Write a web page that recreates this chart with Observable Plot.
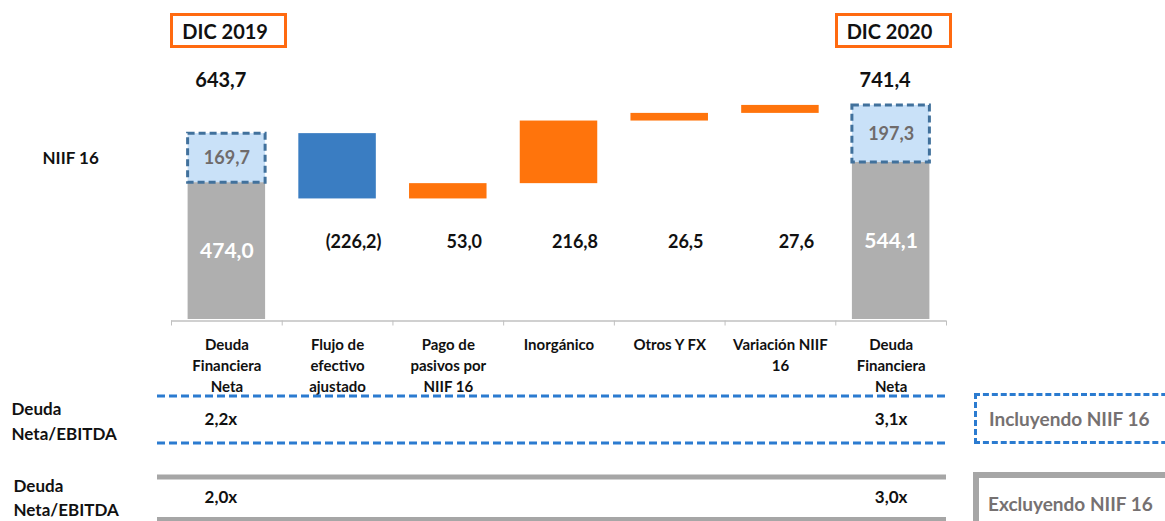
<!DOCTYPE html>
<html>
<head>
<meta charset="utf-8">
<script src="https://cdn.jsdelivr.net/npm/d3@7"></script>
<script src="https://cdn.jsdelivr.net/npm/@observablehq/plot@0.6"></script>
<style>
  html, body { margin: 0; padding: 0; background: #fff; }
  #wrap { position: relative; width: 1165px; height: 521px; overflow: hidden; font-family: Lato, "Open Sans", sans-serif; }
  #wrap svg { position: absolute; left: 0; }
  .dic { position: absolute; box-sizing: border-box; border: 3px solid #ff6a10; background: #fff;
         font-weight: bold; font-size: 20px; color: #111; padding-left: 9px; display: flex; align-items: center; }
  .legbox { position: absolute; box-sizing: border-box; font-weight: bold; font-size: 19px; color: #767171;
            padding-left: 12px; display: flex; align-items: center; }
</style>
</head>
<body>
<div id="wrap"></div>
<script>
// ---- data ----
const categories = ["Deuda\nFinanciera\nNeta", "Flujo de\nefectivo\najustado", "Pago de\npasivos por\nNIIF 16",
                    "Inorgánico", "Otros Y FX", "Variación NIIF\n16", "Deuda\nFinanciera\nNeta"];
const periods = ["DIC 2019", "DIC 2020"];
const baseDebt = [474.0, 544.1];      // excl. NIIF 16
const niifDebt = [169.7, 197.3];      // NIIF 16 part
const totalDebt = [643.7, 741.4];
const changes = [-226.2, 53.0, 216.8, 26.5, 27.6];
const ratioRows = ["Incluyendo NIIF 16", "Excluyendo NIIF 16"];
const ratio2019 = [2.2, 2.0];
const ratio2020 = [3.1, 3.0];

const BLUE = "#3a7dc2", ORANGE = "#ff740c", GRAY = "#afafaf";
const fmt = v => (v < 0 ? "(" + Math.abs(v).toFixed(1).replace(".", ",") + ")" : v.toFixed(1).replace(".", ","));
const fmtx = v => v.toFixed(1).replace(".", ",") + "x";

const totals = periods.map((p, k) => ({ i: k === 0 ? 0 : categories.length - 1, period: p,
  base: baseDebt[k], niif: niifDebt[k], total: totalDebt[k] }));
let run = totalDebt[0];
const steps = changes.map((v, k) => { const s = run; run += v; return { i: k + 1, y1: s, y2: run, v }; });
const cats = categories.map((t, i) => ({ i, t }));
const hw = 0.35;

const wrap = document.getElementById("wrap");

const plot1 = Plot.plot({
  width: 1165, height: 392,
  marginLeft: 171, marginRight: 219, marginTop: 88, marginBottom: 73,
  style: { fontFamily: "Lato, 'Open Sans', sans-serif", background: "transparent", overflow: "visible" },
  x: { type: "linear", domain: [-0.5, categories.length - 0.5], label: null },
  y: { domain: [0, 800], axis: null, label: null },
  marks: [
    Plot.rect(totals, { x1: d => d.i - hw, x2: d => d.i + hw, y1: d => 0, y2: "base", fill: GRAY }),
    Plot.rect(totals, { x1: d => d.i - hw, x2: d => d.i + hw, y1: "base", y2: d => d.base + d.niif,
      fill: "#c9e1f8", stroke: "#41719c", strokeWidth: 3, strokeDasharray: "7,4" }),
    Plot.rect(steps, { x1: d => d.i - hw, x2: d => d.i + hw, y1: "y1", y2: "y2",
      fill: d => (d.v < 0 ? BLUE : ORANGE) }),
    Plot.ruleY([0], { stroke: "#c0c0c0", strokeWidth: 1.5, dy: 1.5 }),
    Plot.axisX({ ticks: d3.range(-0.5, categories.length, 1), tickSize: 5, tickFormat: () => "",
      stroke: "#c0c0c0", dy: 1.5, label: null }),
    Plot.text(cats, { x: "i", frameAnchor: "bottom", text: "t", lineAnchor: "top", dy: 16,
      fontSize: 15, fontWeight: "bold", lineHeight: 1.4, fill: "#111" }),
    Plot.text(totals, { x: "i", y: d => d.base + d.niif / 2, text: d => fmt(d.niif),
      fill: "#6f6b6b", fontSize: 18, fontWeight: "bold" }),
    Plot.text(totals, { x: "i", y: d => d.base / 2, text: d => fmt(d.base),
      fill: "#fff", fontSize: 21, fontWeight: "bold" }),
    Plot.text(steps, { x: "i", frameAnchor: "bottom", text: d => fmt(d.v), dy: -72, dx: 16,
      fill: "#111", fontSize: 18, fontWeight: "bold" }),
    Plot.text(totals, { x: "i", frameAnchor: "top", text: d => fmt(d.total), dy: -16, dx: -6,
      fill: "#111", fontSize: 20, fontWeight: "bold" }),
    Plot.text([totals[0]], { frameAnchor: "left", y: d => d.base + d.niif / 2, text: () => "NIIF 16",
      dx: -129, textAnchor: "start", fill: "#111", fontSize: 17, fontWeight: "bold" })
  ]
});
plot1.style.top = "0px";
wrap.appendChild(plot1);

const rows = ratioRows.map((r, k) => ({ row: r, v19: ratio2019[k], v20: ratio2020[k] }));
const plot2 = Plot.plot({
  width: 1165, height: 129,
  marginLeft: 171, marginRight: 219, marginTop: 26.5, marginBottom: 24,
  style: { fontFamily: "Lato, 'Open Sans', sans-serif", background: "transparent", overflow: "visible" },
  x: { type: "linear", domain: [-0.5, categories.length - 0.5], axis: null, label: null },
  y: { type: "point", domain: ratioRows, padding: 0, axis: null, label: null },
  marks: [
    Plot.ruleY([ratioRows[0]], { y: d => d, dy: -23.5, stroke: "#2b7bd0", strokeWidth: 3, strokeDasharray: "8,4", insetLeft: -14 }),
    Plot.ruleY([ratioRows[0]], { y: d => d, dy: 23.5, stroke: "#2b7bd0", strokeWidth: 3, strokeDasharray: "8,4", insetLeft: -14 }),
    Plot.ruleY([ratioRows[1]], { y: d => d, dy: -20.5, stroke: "#a6a6a6", strokeWidth: 5, insetLeft: -14 }),
    Plot.ruleY([ratioRows[1]], { y: d => d, dy: 22, stroke: "#a6a6a6", strokeWidth: 5, insetLeft: -14 }),
    Plot.text(rows, { x: () => 0, y: "row", text: d => fmtx(d.v19), dx: -6, fill: "#111", fontSize: 17, fontWeight: "bold" }),
    Plot.text(rows, { x: () => categories.length - 1, y: "row", text: d => fmtx(d.v20), dx: 0, fill: "#111", fontSize: 17, fontWeight: "bold" }),
    Plot.text(rows.slice(0, 1), { frameAnchor: "left", y: "row", text: () => "Deuda\nNeta/EBITDA", dx: -160,
      textAnchor: "start", lineHeight: 1.5, fill: "#111", fontSize: 17, fontWeight: "bold" }),
    Plot.text(rows.slice(1), { frameAnchor: "left", y: "row", text: () => "Deuda\nNeta/EBITDA", dx: -158, dy: -1,
      textAnchor: "start", lineHeight: 1.4, fill: "#111", fontSize: 17, fontWeight: "bold" })
  ]
});
plot2.style.top = "392px";
wrap.appendChild(plot2);

// period headers positioned with the chart's x scale
const xs = plot1.scale("x");
totals.forEach(t => {
  const d = document.createElement("div");
  d.className = "dic";
  d.textContent = t.period;
  d.style.left = (xs.apply(t.i) - 56) + "px";
  d.style.top = "13px";
  d.style.width = "117px";
  d.style.height = "35px";
  wrap.appendChild(d);
});

// legend boxes
const leg1 = document.createElement("div");
leg1.className = "legbox";
leg1.textContent = ratioRows[0];
Object.assign(leg1.style, { left: "974px", top: "393px", width: "220px", height: "51px", border: "3px dashed #2b7bd0" });
wrap.appendChild(leg1);
const leg2 = document.createElement("div");
leg2.className = "legbox";
leg2.textContent = ratioRows[1];
Object.assign(leg2.style, { left: "973px", top: "472px", width: "220px", height: "60px", border: "6px solid #a6a6a6", paddingLeft: "9px", alignItems: "flex-start", paddingTop: "14px" });
wrap.appendChild(leg2);
</script>
</body>
</html>
